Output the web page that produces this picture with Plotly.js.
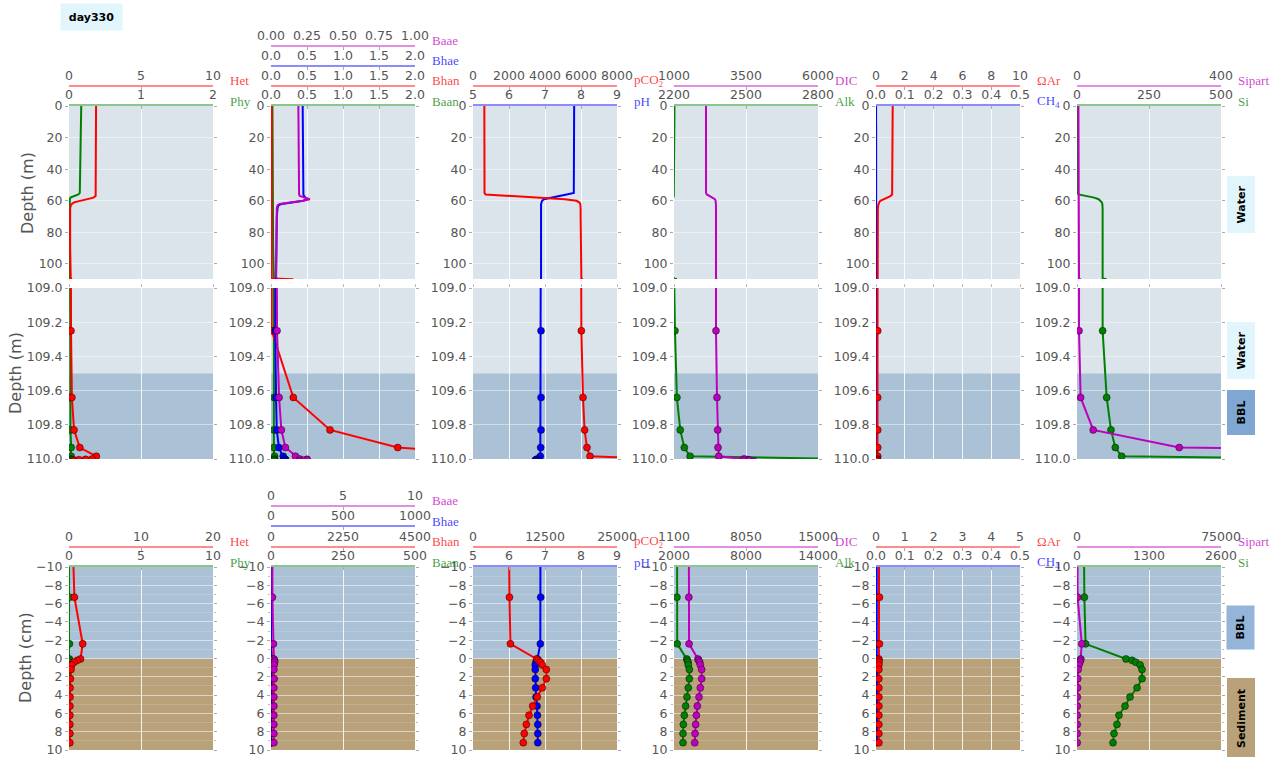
<!DOCTYPE html>
<html><head><meta charset="utf-8">
<script src="https://cdn.plot.ly/plotly-3.0.1.min.js"></script>
<style>html,body{margin:0;padding:0;background:#fff}#chart{width:1270px;height:757px}</style>
</head><body><div id="chart"></div>
<script>
// ---------------- DATA ----------------
const dayLabel = 'day330';
const SWI_M = 110;        // sediment-water interface (m)
const BBL_TOP_M = 109.5;  // top of benthic boundary layer (m)

// water column depths (m) for the upper panels
const wcDepth_m = [0, 20, 40, 55, 56, 57, 58, 59, 60, 61, 62, 63, 65, 70, 90, 108];
// BBL + sediment depths (cm relative to SWI)
const bblDepth_cm = [-75, -36, -17, -6.7, -1.6, 0.05, 0.2, 0.4, 0.7, 1.2, 2.2, 3.2, 4.2, 5.2, 6.2, 7.2, 8.2, 9.2];

const Phy_wc  = [0.17, 0.165, 0.16, 0.15, 0.13, 0.06, 0.02, 0.012, 0.01, 0.01, 0.01, 0.01, 0.01, 0.01, 0.01, 0.01];
const Phy_bbl = [0.01, 0.01, 0.02, 0.03, 0.03, 0.03, 0.02, 0.01, 0.005, 0.003, 0.002, 0.001, 0.001, 0.001, 0.001, 0.001, 0.001, 0.001];
const Het_wc  = [1.88, 1.88, 1.88, 1.88, 1.88, 1.85, 1.7, 1.3, 0.8, 0.35, 0.2, 0.12, 0.08, 0.07, 0.08, 0.12];
const Het_bbl = [0.14, 0.2, 0.35, 0.75, 1.9, 1.6, 1.15, 0.69, 0.37, 0.28, 0.2, 0.15, 0.14, 0.13, 0.12, 0.12, 0.12, 0.12];

const Baan_wc  = [0.02, 0.02, 0.02, 0.02, 0.02, 0.02, 0.02, 0.02, 0.02, 0.03, 0.03, 0.03, 0.03, 0.03, 0.03, 0.04];
const Baan_bbl = [0.04, 0.04, 0.04, 0.04, 0.05, 0.05, 0.05, 0.05, 0.04, 0.04, 0.04, 0.04, 0.04, 0.04, 0.04, 0.04, 0.04, 0.04];
const Bhan_wc  = [0.01, 0.01, 0.01, 0.01, 0.01, 0.01, 0.01, 0.01, 0.01, 0.01, 0.01, 0.01, 0.01, 0.01, 0.01, 0.01];
const Bhan_bbl = [0.01, 0.31, 0.82, 1.76, 3.5, 40, 45, 45, 40, 35, 30, 25, 20, 18, 16, 15, 14, 13];
const Bhae_wc  = [0.44, 0.44, 0.44, 0.44, 0.45, 0.46, 0.48, 0.5, 0.45, 0.3, 0.15, 0.1, 0.09, 0.08, 0.07, 0.065];
const Bhae_bbl = [0.06, 0.07, 0.08, 0.11, 0.17, 0.18, 0.2, 0.2, 0.19, 0.18, 0.18, 0.17, 0.17, 0.16, 0.16, 0.16, 0.15, 0.15];
const Baae_wc  = [0.19, 0.19, 0.19, 0.19, 0.195, 0.2, 0.24, 0.27, 0.22, 0.12, 0.06, 0.045, 0.04, 0.04, 0.038, 0.035];
const Baae_bbl = [0.042, 0.056, 0.072, 0.1, 0.17, 0.2, 0.25, 0.25, 0.22, 0.2, 0.22, 0.2, 0.2, 0.2, 0.2, 0.2, 0.2, 0.2];

const pH_wc    = [7.81, 7.81, 7.81, 7.8, 7.6, 7.35, 7.1, 6.97, 6.92, 6.9, 6.89, 6.89, 6.89, 6.89, 6.89, 6.89];
const pH_bbl   = [6.89, 6.89, 6.89, 6.88, 6.87, 6.79, 6.77, 6.75, 6.73, 6.73, 6.73, 6.74, 6.75, 6.78, 6.79, 6.8, 6.8, 6.8];
const pCO2_wc  = [630, 630, 630, 640, 700, 2200, 3700, 5100, 5750, 5900, 5960, 5980, 5980, 5980, 5980, 5980];
const pCO2_bbl = [6020, 6110, 6200, 6330, 6500, 11050, 11340, 11700, 12030, 12730, 12730, 12030, 11160, 10360, 9720, 9260, 8900, 8730];

const Alk_wc  = [2202, 2202, 2202, 2202, 2201, 2199, 2196, 2194, 2193, 2192, 2191, 2190, 2190, 2190, 2190, 2190];
const Alk_bbl = [2204, 2212, 2226, 2243, 2267, 3060, 3110, 3170, 3190, 3280, 3280, 3190, 3080, 2970, 2860, 2780, 2750, 2750];
const DIC_wc  = [2111, 2111, 2111, 2113, 2140, 2250, 2360, 2420, 2445, 2455, 2458, 2458, 2458, 2458, 2458, 2458];
const DIC_bbl = [2458, 2493, 2517, 2528, 2552, 3416, 3480, 3580, 3640, 3770, 3770, 3640, 3512, 3350, 3260, 3190, 3130, 3100];

const CH4_wc    = [0.0003, 0.0003, 0.0003, 0.0003, 0.0003, 0.0003, 0.0003, 0.0003, 0.0003, 0.0003, 0.0003, 0.0003, 0.0003, 0.0003, 0.0003, 0.0004];
const CH4_bbl   = [0.0005, 0.0005, 0.0005, 0.0008, 0.001, 0.002, 0.002, 0.003, 0.003, 0.003, 0.003, 0.003, 0.003, 0.003, 0.003, 0.003, 0.003, 0.003];
const OmAr_wc   = [1.16, 1.16, 1.16, 1.16, 1.12, 1.0, 0.75, 0.45, 0.3, 0.22, 0.18, 0.15, 0.13, 0.12, 0.12, 0.12];
const OmAr_bbl  = [0.12, 0.12, 0.12, 0.12, 0.12, 0.1, 0.1, 0.1, 0.1, 0.1, 0.1, 0.1, 0.1, 0.1, 0.1, 0.1, 0.1, 0.1];

const Si_wc      = [1, 1, 1, 2, 5, 35, 60, 75, 82, 86, 88, 89, 89, 89, 89, 89];
const Si_bbl     = [89, 103, 118, 133, 155, 885, 993, 1060, 1140, 1174, 1174, 1084, 957, 867, 758, 722, 668, 650];
const Sipart_wc  = [4, 4, 4, 4, 4, 4, 4, 4, 4, 4, 4, 4, 4, 4, 3.8, 3.7];
const Sipart_bbl = [5.6, 10, 45, 284, 2500, 2000, 1800, 1500, 1000, 600, 400, 300, 200, 150, 120, 100, 100, 100];

// tick labels (W = water/BBL scale, S = sediment scale)
const Phy_tW = [0, 1, 2],                 Phy_tS = [0, 5, 10];
const Het_tW = [0, 5, 10],                Het_tS = [0, 10, 20];
const Baan_tW = [0, 0.5, 1, 1.5, 2],      Baan_tS = [0, 250, 500];
const Bhan_tW = [0, 0.5, 1, 1.5, 2],      Bhan_tS = [0, 2250, 4500];
const Bhae_tW = [0, 0.5, 1, 1.5, 2],      Bhae_tS = [0, 500, 1000];
const Baae_tW = [0, 0.25, 0.5, 0.75, 1],  Baae_tS = [0, 5, 10];
const pH_tW = [5, 6, 7, 8, 9],            pH_tS = [5, 6, 7, 8, 9];
const pCO2_tW = [0, 2000, 4000, 6000, 8000], pCO2_tS = [0, 12500, 25000];
const Alk_tW = [2200, 2500, 2800],        Alk_tS = [2000, 8000, 14000];
const DIC_tW = [1000, 3500, 6000],        DIC_tS = [1100, 8050, 15000];
const CH4_tW = [0, 0.1, 0.2, 0.3, 0.4, 0.5], CH4_tS = [0, 0.1, 0.2, 0.3, 0.4, 0.5];
const OmAr_tW = [0, 2, 4, 6, 8, 10],      OmAr_tS = [0, 1, 2, 3, 4, 5];
const Si_tW = [0, 250, 500],              Si_tS = [0, 1300, 2600];
const Sipart_tW = [0, 400],               Sipart_tS = [0, 75000];

// depth tick labels per row
const depthTicks_m   = [0, 20, 40, 60, 80, 100];
const depthTicks_bbl = [109.0, 109.2, 109.4, 109.6, 109.8, 110.0];
const depthTicks_cm  = [-10, -8, -6, -4, -2, 0, 2, 4, 6, 8, 10];

const rowYRange = [[BBL_TOP_M, 0], [SWI_M, 109], [10, -10]];
const rowYLabels = ['Depth (m)', 'Depth (m)', 'Depth (cm)'];
const zoneLabels = [[['Water', 'water']], [['Water', 'water'], ['BBL', 'bbl']], [['BBL', 'bbl2'], ['Sediment', 'sed']]];

// ---------------- STYLE ----------------
const RED = [255, 0, 0], GREEN = [0, 128, 0], BLUE = [0, 0, 255], MAG = [191, 0, 191];
const rgba = (c, a) => `rgba(${c[0]},${c[1]},${c[2]},${a})`;
const C_WATER = '#dae4ea', C_BBL = '#abc1d6', C_SED = '#b9a27a';
const BOX = {water: '#e1f5fd', bbl: '#7fa7d2', bbl2: '#94b4d9', sed: '#b9a27a'};
const W = 1270, H = 757;
const fx = p => p / W, fy = p => 1 - p / H;
const colPx = [[69, 213], [271, 415], [473, 617], [674, 818], [876, 1020], [1077, 1221]];
const rowPx = [[106, 279], [288, 459], [567, 750]];
const axisStep = [20.1, 0, 20.4];
const TICKFONT = {family: 'DejaVu Sans', size: 12.5, color: '#555'};
const LABELFONT = 'Liberation Serif';

const panels = [
  [{n: 'Phy', c: GREEN, wc: Phy_wc, b: Phy_bbl, tW: Phy_tW, tS: Phy_tS, fW: 'd', fS: 'd'},
   {n: 'Het', c: RED, wc: Het_wc, b: Het_bbl, tW: Het_tW, tS: Het_tS, fW: 'd', fS: 'd'}],
  [{n: 'Baan', c: GREEN, wc: Baan_wc, b: Baan_bbl, tW: Baan_tW, tS: Baan_tS, fW: '.1f', fS: 'd'},
   {n: 'Bhan', c: RED, wc: Bhan_wc, b: Bhan_bbl, tW: Bhan_tW, tS: Bhan_tS, fW: '.1f', fS: 'd'},
   {n: 'Bhae', c: BLUE, wc: Bhae_wc, b: Bhae_bbl, tW: Bhae_tW, tS: Bhae_tS, fW: '.1f', fS: 'd'},
   {n: 'Baae', c: MAG, wc: Baae_wc, b: Baae_bbl, tW: Baae_tW, tS: Baae_tS, fW: '.2f', fS: 'd'}],
  [{n: 'pH', c: BLUE, wc: pH_wc, b: pH_bbl, tW: pH_tW, tS: pH_tS, fW: 'd', fS: 'd'},
   {n: 'pCO<sub>2</sub>', c: RED, wc: pCO2_wc, b: pCO2_bbl, tW: pCO2_tW, tS: pCO2_tS, fW: 'd', fS: 'd'}],
  [{n: 'Alk', c: GREEN, wc: Alk_wc, b: Alk_bbl, tW: Alk_tW, tS: Alk_tS, fW: 'd', fS: 'd'},
   {n: 'DIC', c: MAG, wc: DIC_wc, b: DIC_bbl, tW: DIC_tW, tS: DIC_tS, fW: 'd', fS: 'd'}],
  [{n: 'CH<sub>4</sub>', c: BLUE, wc: CH4_wc, b: CH4_bbl, tW: CH4_tW, tS: CH4_tS, fW: '.1f', fS: '.1f'},
   {n: 'ΩAr', c: RED, wc: OmAr_wc, b: OmAr_bbl, tW: OmAr_tW, tS: OmAr_tS, fW: 'd', fS: 'd'}],
  [{n: 'Si', c: GREEN, wc: Si_wc, b: Si_bbl, tW: Si_tW, tS: Si_tS, fW: 'd', fS: 'd'},
   {n: 'Sipart', c: MAG, wc: Sipart_wc, b: Sipart_bbl, tW: Sipart_tW, tS: Sipart_tS, fW: 'd', fS: 'd'}]
];

// ---------------- BUILD ----------------
const layout = {
  width: W, height: H, autosize: false, margin: {l: 0, r: 0, t: 0, b: 0},
  paper_bgcolor: '#ffffff', plot_bgcolor: C_WATER, showlegend: false,
  shapes: [], annotations: []
};
const traces = [];
const bblDepth_m = bblDepth_cm.map(d => SWI_M + d / 100);
// upper panel uses water-column points plus the BBL points down to the first one below its bottom
const nUpper = bblDepth_m.findIndex(d => d > BBL_TOP_M) + 1;
const allDepth_m = wcDepth_m.concat(bblDepth_m);
const upperDepth_m = wcDepth_m.concat(bblDepth_m.slice(0, nUpper));
let xi = 0, yi = 0;

for (let r = 0; r < 3; r++) {
  for (let c = 0; c < 6; c++) {
    yi++;
    const yRef = yi === 1 ? 'y' : 'y' + yi;
    const yName = yi === 1 ? 'yaxis' : 'yaxis' + yi;
    const [x0, x1] = colPx[c], [y0, y1] = rowPx[r];
    let mainX = null;
    panels[c].forEach((s, k) => {
      xi++;
      const xRef = xi === 1 ? 'x' : 'x' + xi;
      const xName = xi === 1 ? 'xaxis' : 'xaxis' + xi;
      const ticks = r === 2 ? s.tS : s.tW;
      const ax = {
        range: [ticks[0], ticks[ticks.length - 1]], tickmode: 'array', tickvals: ticks,
        tickformat: r === 2 ? s.fS : s.fW, side: 'top', zeroline: false, tickangle: 0,
        tickfont: TICKFONT, fixedrange: true, ticklabeloverflow: 'allow'
      };
      if (k === 0) {
        ax.anchor = yRef; ax.domain = [fx(x0), fx(x1)]; mainX = xRef;
        ax.showgrid = true; ax.gridcolor = 'rgba(255,255,255,0.85)'; ax.gridwidth = 1;
      } else {
        ax.overlaying = mainX; ax.anchor = 'free'; ax.domain = [fx(x0), fx(x1)];
        ax.position = fy(y0 - axisStep[r] * k); ax.showgrid = false;
      }
      if (r === 1) {
        ax.showticklabels = false; ax.showline = false; ax.ticks = 'outside'; ax.ticklen = 3;
        ax.tickcolor = '#bbb';
        if (k > 0) ax.visible = false;
      } else {
        ax.showline = true; ax.linecolor = rgba(s.c, 0.45); ax.linewidth = 2;
        ax.ticks = 'inside'; ax.ticklen = 3; ax.tickcolor = '#aaa';
        const lineY = y0 - axisStep[r] * k;
        layout.annotations.push({
          xref: 'paper', yref: 'paper', x: fx(x1 + 15), y: fy(lineY - 5),
          xanchor: 'left', yanchor: 'middle', showarrow: false, text: s.n,
          font: {family: LABELFONT, size: 13, color: rgba(s.c, 0.75)}
        });
      }
      layout[xName] = ax;
      let xs, ys;
      if (r === 0) { xs = s.wc.concat(s.b.slice(0, nUpper)); ys = upperDepth_m; }
      else if (r === 1) { xs = s.wc.concat(s.b); ys = allDepth_m; }
      else { xs = s.b; ys = bblDepth_cm; }
      traces.push({
        type: 'scatter', xaxis: xRef, yaxis: yRef, x: xs, y: ys,
        mode: r === 0 ? 'lines' : 'lines+markers',
        line: {color: rgba(s.c, 1), width: 2},
        marker: {color: rgba(s.c, 1), size: 7, line: {color: 'rgba(0,0,0,0.55)', width: 0.8}},
        hoverinfo: 'skip'
      });
    });
    const ya = {
      domain: [fy(y1), fy(y0)], anchor: mainX, range: rowYRange[r], zeroline: false,
      showgrid: true, gridcolor: 'rgba(255,255,255,0.45)', gridwidth: 1,
      ticks: 'outside', ticklen: 3, tickcolor: '#aaa', mirror: 'ticks', showline: false,
      tickfont: TICKFONT, fixedrange: true, tickmode: 'array', ticklabeloverflow: 'allow'
    };
    if (r === 0) { ya.tickvals = depthTicks_m; ya.tickformat = 'd'; }
    if (r === 1) { ya.tickvals = depthTicks_bbl; ya.tickformat = '.1f'; }
    if (r === 2) {
      ya.tickvals = depthTicks_cm; ya.tickformat = 'd';
      ya.minor = {dtick: 1, ticks: 'outside', ticklen: 2, tickcolor: '#bbb', showgrid: true, gridcolor: 'rgba(255,255,255,0.15)'};
    }
    layout[yName] = ya;

    // zone backgrounds
    if (r === 1) {
      layout.shapes.push({type: 'rect', xref: mainX + ' domain', yref: yRef, x0: 0, x1: 1,
        y0: BBL_TOP_M, y1: SWI_M, fillcolor: C_BBL, line: {width: 0}, layer: 'below'});
    }
    if (r === 2) {
      const top = rowYRange[2][1], bot = rowYRange[2][0];
      layout.shapes.push({type: 'rect', xref: mainX + ' domain', yref: yRef, x0: 0, x1: 1,
        y0: Math.max(top, (BBL_TOP_M - SWI_M) * 100), y1: 0, fillcolor: C_BBL, line: {width: 0}, layer: 'below'});
      layout.shapes.push({type: 'rect', xref: mainX + ' domain', yref: yRef, x0: 0, x1: 1,
        y0: 0, y1: bot, fillcolor: C_SED, line: {width: 0}, layer: 'below'});
    }
  }
}

// y-axis titles
const yTitlePos = [[28, 193], [15, 373], [25, 658]];
rowYLabels.forEach((t, r) => layout.annotations.push({
  xref: 'paper', yref: 'paper', x: fx(yTitlePos[r][0]), y: fy(yTitlePos[r][1]),
  xanchor: 'center', yanchor: 'middle', showarrow: false, text: t, textangle: -90,
  font: {family: 'DejaVu Sans', size: 16, color: '#555'}
}));

// zone boxes on the right
const zoneBoxPos = [[[205, 54]], [[351, 54], [413, 42]], [[627.5, 41], [719, 78]]];
zoneLabels.forEach((zs, r) => zs.forEach((z, i) => {
  const [cy, len] = zoneBoxPos[r][i];
  layout.annotations.push({
    xref: 'paper', yref: 'paper', x: fx(1240.5), y: fy(cy), xanchor: 'center', yanchor: 'middle',
    showarrow: false, text: '<b>' + z[0] + '</b>', textangle: -90, width: len, height: 25,
    bgcolor: BOX[z[1]], font: {family: 'DejaVu Sans', size: 11, color: '#000'}
  });
}));

// day label
layout.annotations.push({
  xref: 'paper', yref: 'paper', x: fx(91.5), y: fy(17), xanchor: 'center', yanchor: 'middle',
  showarrow: false, text: '<b>' + dayLabel + '</b>', width: 59, height: 24, bgcolor: '#e1f5fd',
  font: {family: 'DejaVu Sans', size: 11, color: '#000'}
});

Plotly.newPlot('chart', traces, layout, {displayModeBar: false, staticPlot: true});
</script></body></html>
